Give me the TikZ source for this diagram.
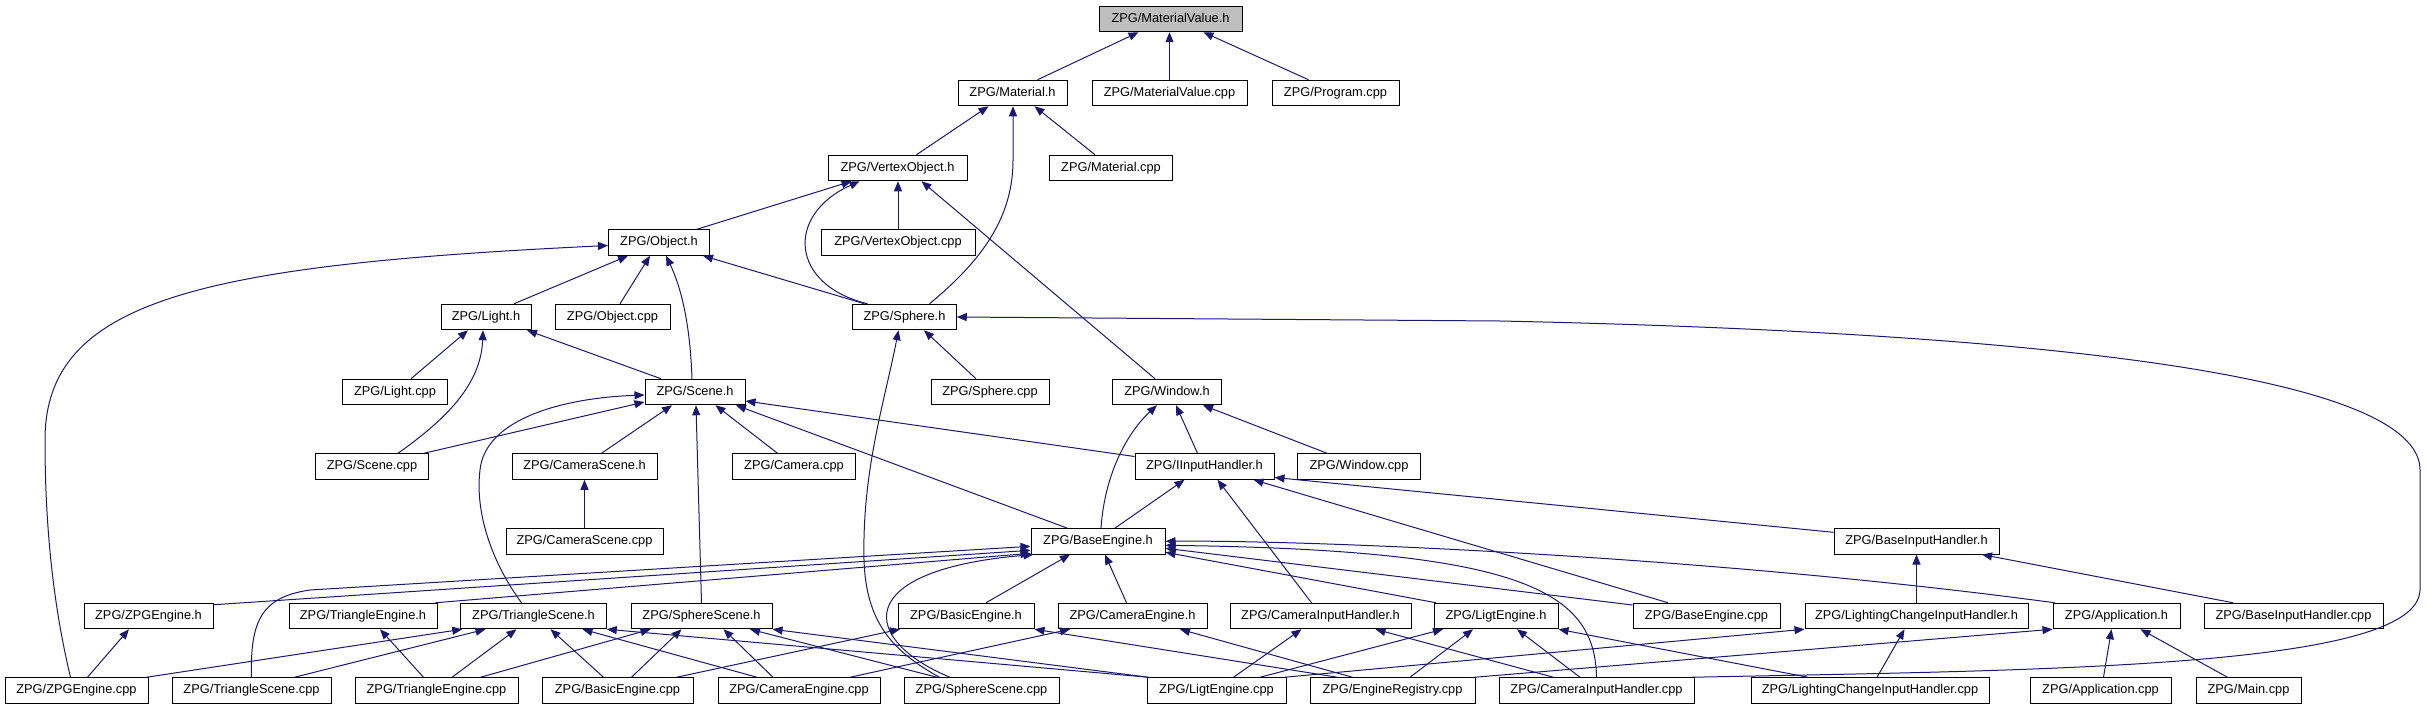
\documentclass[tikz,border=0pt]{standalone}
\usepackage{fontspec}
\setmainfont{Liberation Sans}
\usetikzlibrary{arrows.meta}
\definecolor{edgeblue}{RGB}{25,25,112}
\definecolor{rootgray}{RGB}{191,191,191}
\tikzset{
  box/.style={draw=black, line width=1pt, fill=white, minimum height=25.5pt, inner sep=0pt,
    font=\fontsize{12.8pt}{15pt}\selectfont, text height=9.4pt, text depth=2.6pt},
  e/.style={draw=edgeblue, line width=1pt, -{Triangle[length=10pt,width=8pt]}}
}
\begin{document}
\begin{tikzpicture}[x=1pt,y=-1pt]
\useasboundingbox (0,0) rectangle (2427,709);
% row 1
\node[box,fill=rootgray,minimum width=143pt] (mvh) at (1170.5,19) {ZPG/MaterialValue.h};
% row 2
\node[box,minimum width=109pt] (math) at (1012.5,93) {ZPG/Material.h};
\node[box,minimum width=155pt] (mvcpp) at (1169.5,93) {ZPG/MaterialValue.cpp};
\node[box,minimum width=127pt] (prog) at (1335.5,93) {ZPG/Program.cpp};
% row 3
\node[box,minimum width=139pt] (voh) at (897.5,168) {ZPG/VertexObject.h};
\node[box,minimum width=122.5pt] (matcpp) at (1111,168) {ZPG/Material.cpp};
% row 4
\node[box,minimum width=101pt] (objh) at (659,242.5) {ZPG/Object.h};
\node[box,minimum width=154pt] (vocpp) at (898,242.5) {ZPG/VertexObject.cpp};
% row 5
\node[box,minimum width=90pt] (lighth) at (486,317) {ZPG/Light.h};
\node[box,minimum width=115pt] (objcpp) at (612.5,317) {ZPG/Object.cpp};
\node[box,minimum width=103.5pt] (sph) at (904.5,317) {ZPG/Sphere.h};
% row 6
\node[box,minimum width=105pt] (lightcpp) at (395,392) {ZPG/Light.cpp};
\node[box,minimum width=100pt] (sceneh) at (695,392) {ZPG/Scene.h};
\node[box,minimum width=118pt] (sphcpp) at (990,392) {ZPG/Sphere.cpp};
\node[box,minimum width=109pt] (winh) at (1167,392) {ZPG/Window.h};
% row 7
\node[box,minimum width=113.5pt] (scenecpp) at (372,466.5) {ZPG/Scene.cpp};
\node[box,minimum width=145pt] (camsceneh) at (584.5,466.5) {ZPG/CameraScene.h};
\node[box,minimum width=122.5pt] (camcpp) at (794,466.5) {ZPG/Camera.cpp};
\node[box,minimum width=139pt] (iinh) at (1204.5,466.5) {ZPG/IInputHandler.h};
\node[box,minimum width=122.5pt] (wincpp) at (1359,466.5) {ZPG/Window.cpp};
% row 8
\node[box,minimum width=157pt] (camscenecpp) at (584.5,541.3) {ZPG/CameraScene.cpp};
\node[box,minimum width=134pt] (baseh) at (1098,541.3) {ZPG/BaseEngine.h};
\node[box,minimum width=165pt] (binh) at (1916.5,541.3) {ZPG/BaseInputHandler.h};
% row 9
\node[box,minimum width=129pt] (zpgh) at (148.5,616) {ZPG/ZPGEngine.h};
\node[box,minimum width=148pt] (trieh) at (363,616) {ZPG/TriangleEngine.h};
\node[box,minimum width=145.5pt] (trish) at (533.5,616) {ZPG/TriangleScene.h};
\node[box,minimum width=141pt] (sphsh) at (701.5,616) {ZPG/SphereScene.h};
\node[box,minimum width=136pt] (basich) at (966,616) {ZPG/BasicEngine.h};
\node[box,minimum width=149pt] (cameh) at (1132.5,616) {ZPG/CameraEngine.h};
\node[box,minimum width=181pt] (cihh) at (1320.5,616) {ZPG/CameraInputHandler.h};
\node[box,minimum width=124pt] (ligth) at (1496,616) {ZPG/LigtEngine.h};
\node[box,minimum width=147pt] (basecpp) at (1706.5,616) {ZPG/BaseEngine.cpp};
\node[box,minimum width=223pt] (lcih) at (1916.5,616) {ZPG/LightingChangeInputHandler.h};
\node[box,minimum width=127pt] (apph) at (2116.5,616) {ZPG/Application.h};
\node[box,minimum width=179pt] (bincpp) at (2293.5,616) {ZPG/BaseInputHandler.cpp};
% row 10
\node[box,minimum width=143pt] (zpgcpp) at (76.5,690.5) {ZPG/ZPGEngine.cpp};
\node[box,minimum width=159pt] (triscpp) at (251.5,690.5) {ZPG/TriangleScene.cpp};
\node[box,minimum width=163pt] (triecpp) at (436.5,690.5) {ZPG/TriangleEngine.cpp};
\node[box,minimum width=151pt] (basiccpp) at (617.5,690.5) {ZPG/BasicEngine.cpp};
\node[box,minimum width=162pt] (camecpp) at (799,690.5) {ZPG/CameraEngine.cpp};
\node[box,minimum width=155pt] (sphscpp) at (981.5,690.5) {ZPG/SphereScene.cpp};
\node[box,minimum width=139pt] (ligtcpp) at (1216.5,690.5) {ZPG/LigtEngine.cpp};
\node[box,minimum width=165pt] (regcpp) at (1392.5,690.5) {ZPG/EngineRegistry.cpp};
\node[box,minimum width=195pt] (cihcpp) at (1596.5,690.5) {ZPG/CameraInputHandler.cpp};
\node[box,minimum width=238pt] (lcihcpp) at (1870,690.5) {ZPG/LightingChangeInputHandler.cpp};
\node[box,minimum width=141pt] (appcpp) at (2100.5,690.5) {ZPG/Application.cpp};
\node[box,minimum width=105pt] (maincpp) at (2248.5,690.5) {ZPG/Main.cpp};

% ---- edges (child -> included parent)
\draw[e] ([xshift=25]math.north) -- ([xshift=-32]mvh.south);
\draw[e] (mvcpp.north) -- (mvcpp.north |- mvh.south);
\draw[e] ([xshift=-27]prog.north) -- ([xshift=33]mvh.south);
\draw[e] ([xshift=19]voh.north) -- ([xshift=-24]math.south);
\draw[e] ([xshift=25]sph.north) .. controls (985,258) and (1013,215) .. (1013,160) -- ([xshift=0.5]math.south);
\draw[e] ([xshift=-16]matcpp.north) -- ([xshift=22]math.south);
\draw[e] ([xshift=38]objh.north) -- ([xshift=-46]voh.south);
\draw[e] (vocpp.north) -- (vocpp.north |- voh.south);
\draw[e] ([xshift=-37]sph.north) .. controls (790,285) and (785,215) .. ([xshift=-38]voh.south);
\draw[e] ([xshift=-12]winh.north) -- ([xshift=24]voh.south);
\draw[e] ([xshift=-6]zpgcpp.north) .. controls (52,600) and (45,520) .. (45,440) .. controls (45,300) and (200,265) .. ([yshift=-3]objh.west);
\draw[e] ([xshift=28]lighth.north) -- ([xshift=-31]objh.south);
\draw[e] ([xshift=7.5]objcpp.north) -- ([xshift=-9]objh.south);
\draw[e] ([xshift=-3]sceneh.north) .. controls (690,320) and (680,285) .. ([xshift=7]objh.south);
\draw[e] ([xshift=-40]sph.north) -- ([xshift=44]objh.south);
\draw[e] ([xshift=16]lightcpp.north) -- ([xshift=-18]lighth.south);
\draw[e] ([xshift=26]scenecpp.north) .. controls (445,420) and (481,385) .. ([xshift=-3]lighth.south);
\draw[e] ([xshift=-34]sceneh.north) -- ([xshift=41]lighth.south);
\draw[e] ([xshift=-14]sphcpp.north) -- ([xshift=19.5]sph.south);
\draw[e] ([xshift=-42]sphscpp.north) .. controls (890,650) and (866,620) .. (864,560) .. controls (862,470) and (885,400) .. ([xshift=-6]sph.south);
\draw[e] ([xshift=95]cihcpp.north) .. controls (2050,670) and (2418,668) .. (2420,590) -- (2420,470) .. controls (2420,390) and (2150,335) .. (1500,321) -- (sph.east);
\draw[e] ([xshift=52]scenecpp.north) -- ([yshift=-10]sceneh.west);
\draw[e] ([xshift=17]camsceneh.north) -- ([xshift=-23]sceneh.south);
\draw[e] ([xshift=-16.5]camcpp.north) -- ([xshift=20.5]sceneh.south);
\draw[e] ([xshift=-12]trish.north) .. controls (490,560) and (475,510) .. (480,470) .. controls (485,420) and (560,398) .. ([yshift=-3]sceneh.west);
\draw[e] (sphsh.north) -- ([xshift=1]sceneh.south);
\draw[e] ([xshift=-31]baseh.north) -- ([xshift=41]sceneh.south);
\draw[e] ([yshift=10]iinh.west) -- ([yshift=-9]sceneh.east);
\draw[e] (camscenecpp.north) -- (camsceneh.south);
\draw[e] ([xshift=3]baseh.north) .. controls (1105,470) and (1130,430) .. ([xshift=-10]winh.south);
\draw[e] ([xshift=-7]iinh.north) -- ([xshift=9]winh.south);
\draw[e] ([xshift=-32]wincpp.north) -- ([xshift=36]winh.south);
\draw[e] ([xshift=17]baseh.north) -- ([xshift=-20]iinh.south);
\draw[e] ([xshift=-9]cihh.north) -- ([xshift=13]iinh.south);
\draw[e] ([xshift=-38.5]basecpp.north) -- ([xshift=49]iinh.south);
\draw[e] ([yshift=9]binh.west) -- ([yshift=-11]iinh.east);
\draw[e] (lcih.north) -- (binh.south);
\draw[e] ([xshift=-60.5]bincpp.north) -- ([xshift=65.5]binh.south);
\draw[e] ([yshift=-2]zpgh.north east) -- ([yshift=-9]baseh.west);
\draw[e] ([xshift=-2]trieh.north east) -- ([yshift=-12]baseh.west);
\draw[e] (triscpp.north) .. controls (250,620) and (262,597) .. (310,590) -- ([yshift=-5]baseh.west);
\draw[e] ([xshift=-31.5]sphscpp.north) .. controls (860,640) and (850,570) .. ([xshift=3]baseh.south west);
\draw[e] ([xshift=20]basich.north) -- ([xshift=-28]baseh.south);
\draw[e] ([xshift=-6]cameh.north) -- ([xshift=7]baseh.south);
\draw[e] ([xshift=-60]ligth.north) -- ([yshift=-11]baseh.east);
\draw[e] ([yshift=11]basecpp.west) -- ([yshift=-7]baseh.east);
\draw[e] ([xshift=-62]apph.north) .. controls (1700,555) and (1300,540) .. (baseh.east);
\draw[e] (cihcpp.north) .. controls (1595,590) and (1520,550) .. ([yshift=-4]baseh.east);
\draw[e] ([xshift=11]zpgcpp.north) -- ([xshift=-19.5]zpgh.south);
\draw[e] ([xshift=-13]triecpp.north) -- ([xshift=17]trieh.south);
\draw[e] ([xshift=70]zpgcpp.north) -- ([xshift=2]trish.south west);
\draw[e] ([xshift=43]triscpp.north) -- ([xshift=-48]trish.south);
\draw[e] ([xshift=15.5]triecpp.north) -- ([xshift=-17]trish.south);
\draw[e] ([xshift=-14]basiccpp.north) -- ([xshift=17]trish.south);
\draw[e] ([xshift=-42]camecpp.north) -- ([xshift=49]trish.south);
\draw[e] ([xshift=-68]ligtcpp.north) -- (trish.south east);
\draw[e] ([xshift=44]triecpp.north) -- ([xshift=-51]sphsh.south);
\draw[e] ([xshift=14]basiccpp.north) -- ([xshift=-20]sphsh.south);
\draw[e] ([xshift=-26]camecpp.north) -- ([xshift=22]sphsh.south);
\draw[e] ([xshift=-44.5]sphscpp.north) -- ([xshift=48.5]sphsh.south);
\draw[e] ([xshift=-68]ligtcpp.north) -- (sphsh.south east);
\draw[e] ([xshift=59]basiccpp.north) -- ([xshift=-66]basich.south);
\draw[e] ([xshift=-55]regcpp.north) -- (basich.south east);
\draw[e] ([xshift=51]camecpp.north) -- ([xshift=-62.5]cameh.south);
\draw[e] ([xshift=-40]regcpp.north) -- ([xshift=47.5]cameh.south);
\draw[e] ([xshift=17]ligtcpp.north) -- ([xshift=-19]cihh.south);
\draw[e] ([xshift=-43]cihcpp.north) -- ([xshift=55]cihh.south);
\draw[e] ([xshift=43.5]ligtcpp.north) -- ([xshift=-53]ligth.south);
\draw[e] ([xshift=17.5]regcpp.north) -- ([xshift=-23]ligth.south);
\draw[e] ([xshift=-16.5]cihcpp.north) -- ([xshift=21]ligth.south);
\draw[e] ([xshift=-62]lcihcpp.north) -- (ligth.south east);
\draw[e] ([xshift=68]ligtcpp.north) -- (lcih.south west);
\draw[e] ([xshift=7]lcihcpp.north) -- ([xshift=-12]lcih.south);
\draw[e] ([xshift=82]regcpp.north) -- (apph.south west);
\draw[e] ([xshift=3]appcpp.north) -- ([xshift=-5]apph.south);
\draw[e] ([xshift=-21]maincpp.north) -- ([xshift=24]apph.south);
\end{tikzpicture}
\end{document}
